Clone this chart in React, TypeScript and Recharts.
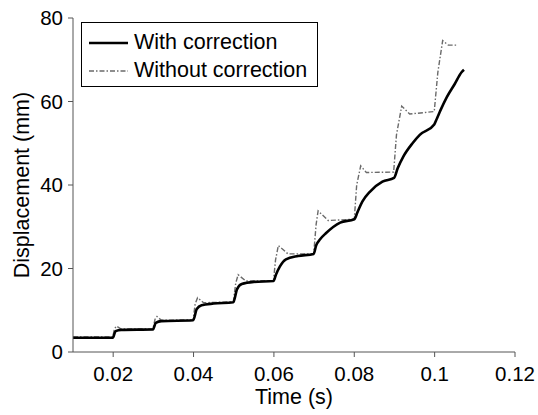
import React from "react";
import { LineChart, Line, XAxis, YAxis, Legend, Label } from "recharts";

const withX = [0.010, 0.0199, 0.0206, 0.022, 0.0299, 0.0306, 0.032, 0.0399, 0.0408, 0.042, 0.045, 0.0499, 0.0508, 0.052, 0.055, 0.0599, 0.0605, 0.0615, 0.063, 0.066, 0.0699, 0.0705, 0.0715, 0.073, 0.0765, 0.0800, 0.0808, 0.082, 0.084, 0.087, 0.0899, 0.0908, 0.0922, 0.0945, 0.0963, 0.0999, 0.1006, 0.1015, 0.103, 0.105, 0.1067, 0.1073];
const withY = [3.4, 3.4, 5.0, 5.3, 5.4, 7.0, 7.4, 7.6, 10.3, 11.2, 11.6, 11.9, 15.0, 16.3, 16.8, 17.0, 18.5, 20.5, 22.2, 23.0, 23.5, 25.5, 27.0, 28.5, 31.0, 31.8, 33.5, 36.0, 38.5, 40.8, 41.7, 44.0, 46.8, 50.0, 52.0, 54.5, 56.0, 58.0, 61.0, 64.2, 67.0, 67.6];

const withoutX = [0.010, 0.0199, 0.0203, 0.0208, 0.022, 0.0299, 0.0304, 0.0309, 0.032, 0.0399, 0.0404, 0.041, 0.0425, 0.0499, 0.0505, 0.0511, 0.053, 0.0599, 0.0604, 0.0611, 0.0635, 0.0699, 0.0705, 0.071, 0.0735, 0.08, 0.0806, 0.0816, 0.083, 0.0898, 0.0905, 0.0918, 0.0938, 0.0999, 0.1008, 0.102, 0.1034, 0.1055];
const withoutY = [3.6, 3.6, 5.5, 6.2, 5.5, 5.5, 7.8, 8.5, 7.6, 7.7, 11.5, 13.0, 11.8, 12.0, 16.5, 18.5, 17.0, 17.1, 22.0, 25.5, 23.5, 23.5, 30.5, 33.8, 31.5, 31.8, 40.0, 44.6, 43.0, 43.1, 52.0, 58.9, 57.0, 57.6, 67.0, 74.6, 73.5, 73.5];

const xTicks = [0.02, 0.04, 0.06, 0.08, 0.1, 0.12];
const yTicks = [0, 20, 40, 60, 80];
const seriesNames = ["With correction", "Without correction"];

const withData = withX.map((x, i) => ({ x, y: withY[i] }));
const withoutData = withoutX.map((x, i) => ({ x, y: withoutY[i] }));

const FONT = "'Liberation Sans', Arial, sans-serif";
const AXIS = "#555";
const GREY = "#6a6a6a";
const DASH = "5 2 1.5 2";
const TICK_FS = 20.5;
const LABEL_FS = 21.5;

const LegendBox = () => (
  <div
    style={{
      boxSizing: "border-box",
      width: 237,
      height: 65,
      border: "1px solid #000",
      background: "#fff",
      padding: "6px 6px 0 7px",
      fontFamily: FONT,
      fontSize: LABEL_FS,
      color: "#000",
      lineHeight: 1,
    }}
  >
    {seriesNames.map((name, i) => (
      <div key={name} style={{ display: "flex", alignItems: "center", height: 27.7 }}>
        <svg width={39} height={6} style={{ marginRight: 6, flex: "none" }}>
          <line
            x1={0}
            y1={3}
            x2={39}
            y2={3}
            stroke={i === 0 ? "#000" : GREY}
            strokeWidth={i === 0 ? 2.6 : 1.4}
            strokeDasharray={i === 0 ? undefined : DASH}
          />
        </svg>
        <span style={{ whiteSpace: "nowrap" }}>{name}</span>
      </div>
    ))}
  </div>
);

export default function App() {
  return (
    <div style={{ position: "absolute", left: 0, top: 0, background: "#fff" }}>
      <LineChart width={538} height={415} margin={{ top: 18, right: 23, left: 0, bottom: 0 }}>
        <XAxis
          type="number"
          dataKey="x"
          domain={[0.01, 0.12]}
          ticks={xTicks}
          tickFormatter={(v: number) => String(v)}
          height={63}
          tickSize={5}
          tickMargin={9}
          stroke={AXIS}
          tick={{ fill: "#000", fontSize: TICK_FS, fontFamily: FONT }}
          allowDataOverflow
        >
          <Label
            content={({ viewBox }: any) => (
              <text
                x={viewBox.x + viewBox.width / 2}
                y={viewBox.y + 52}
                textAnchor="middle"
                fontSize={LABEL_FS}
                fontFamily={FONT}
                fill="#000"
              >
                Time (s)
              </text>
            )}
          />
        </XAxis>
        <YAxis
          type="number"
          dataKey="y"
          domain={[0, 80]}
          ticks={yTicks}
          width={73}
          tickSize={5}
          tickMargin={5}
          stroke={AXIS}
          tick={{ fill: "#000", fontSize: TICK_FS, fontFamily: FONT }}
          allowDataOverflow
        >
          <Label
            content={({ viewBox }: any) => {
              const cx = viewBox.x + 29;
              const cy = viewBox.y + viewBox.height / 2;
              return (
                <text
                  x={cx}
                  y={cy}
                  textAnchor="middle"
                  transform={`rotate(-90 ${cx} ${cy})`}
                  fontSize={LABEL_FS}
                  fontFamily={FONT}
                  fill="#000"
                >
                  Displacement (mm)
                </text>
              );
            }}
          />
        </YAxis>
        <Legend
          layout="vertical"
          align="center"
          verticalAlign="middle"
          wrapperStyle={{ left: 81, top: 22, width: 237, height: 65 }}
          content={() => <LegendBox />}
        />
        <Line
          data={withoutData}
          dataKey="y"
          name={seriesNames[1]}
          stroke={GREY}
          strokeWidth={1.4}
          strokeDasharray={DASH}
          dot={false}
          type="linear"
          isAnimationActive={false}
        />
        <Line
          data={withData}
          dataKey="y"
          name={seriesNames[0]}
          stroke="#000"
          strokeWidth={2.6}
          dot={false}
          type="monotone"
          isAnimationActive={false}
        />
      </LineChart>
    </div>
  );
}
